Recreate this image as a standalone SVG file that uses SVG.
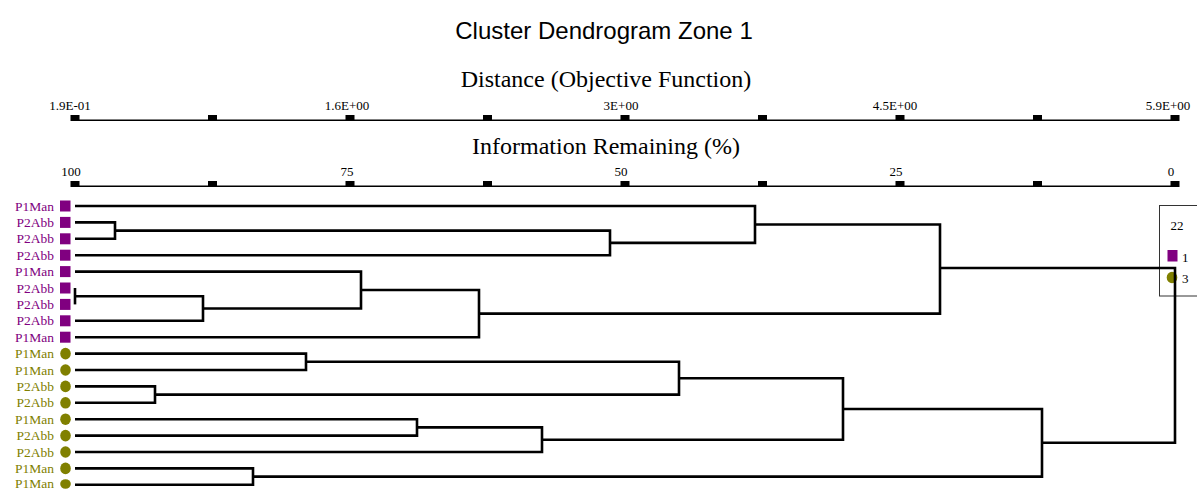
<svg xmlns="http://www.w3.org/2000/svg" width="1197" height="489" viewBox="0 0 1197 489">
<style>
.bg{fill:#fff}
.title{font-family:"Liberation Sans",Arial,sans-serif;font-size:24px;fill:#000;text-anchor:middle}
.cap{font-family:"Liberation Serif","Times New Roman",serif;font-size:24px;fill:#000;text-anchor:middle}
.ax{font-family:"Liberation Serif","Times New Roman",serif;font-size:13px;fill:#000;text-anchor:middle}
.axl{fill:none;stroke:#000;stroke-width:1.6}
.tk{fill:#000}
.lp{font-family:"Liberation Serif","Times New Roman",serif;font-size:13.5px;fill:#800080;text-anchor:end}
.lo{font-family:"Liberation Serif","Times New Roman",serif;font-size:13.5px;fill:#808000;text-anchor:end}
.mp{fill:#800080}
.mo{fill:#808000}
.br{fill:none;stroke:#000;stroke-width:2.6;stroke-linejoin:miter;stroke-linecap:butt}
.lg{font-family:"Liberation Serif","Times New Roman",serif;font-size:13px;fill:#000}
.box{fill:none;stroke:#333;stroke-width:1}
</style>
<rect class="bg" x="0" y="0" width="1197" height="489"/>
<text class="title" x="604" y="39">Cluster Dendrogram Zone 1</text>

<g id="axis-distance">
<text class="cap" x="606" y="87">Distance (Objective Function)</text>
<line class="axl" x1="71" y1="120.3" x2="1179" y2="120.3"/>
<rect class="tk" x="70.5" y="115" width="9" height="6"/>
<rect class="tk" x="208" y="115" width="9" height="6"/>
<rect class="tk" x="345.5" y="115" width="9" height="6"/>
<rect class="tk" x="483" y="115" width="9" height="6"/>
<rect class="tk" x="620.5" y="115" width="9" height="6"/>
<rect class="tk" x="758" y="115" width="9" height="6"/>
<rect class="tk" x="895.5" y="115" width="9" height="6"/>
<rect class="tk" x="1033" y="115" width="9" height="6"/>
<rect class="tk" x="1170.5" y="115" width="9" height="6"/>
<text class="ax" x="70" y="110">1.9E-01</text>
<text class="ax" x="347" y="110">1.6E+00</text>
<text class="ax" x="621" y="110">3E+00</text>
<text class="ax" x="895" y="110">4.5E+00</text>
<text class="ax" x="1168" y="110">5.9E+00</text>
</g>

<g id="axis-information">
<text class="cap" x="606" y="154">Information Remaining (%)</text>
<line class="axl" x1="71" y1="186.3" x2="1179" y2="186.3"/>
<rect class="tk" x="70.5" y="181" width="9" height="6"/>
<rect class="tk" x="208" y="181" width="9" height="6"/>
<rect class="tk" x="345.5" y="181" width="9" height="6"/>
<rect class="tk" x="483" y="181" width="9" height="6"/>
<rect class="tk" x="620.5" y="181" width="9" height="6"/>
<rect class="tk" x="758" y="181" width="9" height="6"/>
<rect class="tk" x="895.5" y="181" width="9" height="6"/>
<rect class="tk" x="1033" y="181" width="9" height="6"/>
<rect class="tk" x="1170.5" y="181" width="9" height="6"/>
<text class="ax" x="71" y="176">100</text>
<text class="ax" x="347" y="176">75</text>
<text class="ax" x="621" y="176">50</text>
<text class="ax" x="896" y="176">25</text>
<text class="ax" x="1171" y="176">0</text>
</g>

<g id="leaf-01"><text class="lp" x="54" y="210.5">P1Man</text><rect class="mp" x="60" y="200.5" width="10.5" height="11"/></g>
<g id="leaf-02"><text class="lp" x="54" y="226.9">P2Abb</text><rect class="mp" x="60" y="216.9" width="10.5" height="11"/></g>
<g id="leaf-03"><text class="lp" x="54" y="243.3">P2Abb</text><rect class="mp" x="60" y="233.3" width="10.5" height="11"/></g>
<g id="leaf-04"><text class="lp" x="54" y="259.7">P2Abb</text><rect class="mp" x="60" y="249.7" width="10.5" height="11"/></g>
<g id="leaf-05"><text class="lp" x="54" y="276.1">P1Man</text><rect class="mp" x="60" y="266.1" width="10.5" height="11"/></g>
<g id="leaf-06"><text class="lp" x="54" y="292.5">P2Abb</text><rect class="mp" x="60" y="282.5" width="10.5" height="11"/></g>
<g id="leaf-07"><text class="lp" x="54" y="308.9">P2Abb</text><rect class="mp" x="60" y="298.9" width="10.5" height="11"/></g>
<g id="leaf-08"><text class="lp" x="54" y="325.3">P2Abb</text><rect class="mp" x="60" y="315.3" width="10.5" height="11"/></g>
<g id="leaf-09"><text class="lp" x="54" y="341.7">P1Man</text><rect class="mp" x="60" y="331.7" width="10.5" height="11"/></g>
<g id="leaf-10"><text class="lo" x="54" y="358.1">P1Man</text><ellipse class="mo" cx="65.5" cy="353.6" rx="5.3" ry="5.8"/></g>
<g id="leaf-11"><text class="lo" x="54" y="374.5">P1Man</text><ellipse class="mo" cx="65.5" cy="370" rx="5.3" ry="5.8"/></g>
<g id="leaf-12"><text class="lo" x="54" y="390.9">P2Abb</text><ellipse class="mo" cx="65.5" cy="386.4" rx="5.3" ry="5.8"/></g>
<g id="leaf-13"><text class="lo" x="54" y="407.3">P2Abb</text><ellipse class="mo" cx="65.5" cy="402.8" rx="5.3" ry="5.8"/></g>
<g id="leaf-14"><text class="lo" x="54" y="423.7">P1Man</text><ellipse class="mo" cx="65.5" cy="419.2" rx="5.3" ry="5.8"/></g>
<g id="leaf-15"><text class="lo" x="54" y="440.1">P2Abb</text><ellipse class="mo" cx="65.5" cy="435.6" rx="5.3" ry="5.8"/></g>
<g id="leaf-16"><text class="lo" x="54" y="456.5">P2Abb</text><ellipse class="mo" cx="65.5" cy="452" rx="5.3" ry="5.8"/></g>
<g id="leaf-17"><text class="lo" x="54" y="472.9">P1Man</text><ellipse class="mo" cx="65.5" cy="468.4" rx="5.3" ry="5.8"/></g>
<g id="leaf-18"><text class="lo" x="54" y="488">P1Man</text><ellipse class="mo" cx="65.5" cy="484" rx="5.3" ry="4.8"/></g>

<g id="legend">
<rect class="box" x="1159.5" y="205.5" width="50" height="90.5"/>
<text class="lg" x="1177" y="230" text-anchor="middle">22</text>
<rect class="mp" x="1167.5" y="250" width="10" height="11.5"/>
<text class="lg" x="1182" y="261.5">1</text>
<ellipse class="mo" cx="1172" cy="277.5" rx="5.3" ry="5.8"/>
<text class="lg" x="1182" y="283">3</text>
</g>

<g id="connectors">
<path class="br" d="M75 222.4 H115 V238.8 H75"/>
<path class="br" d="M115 230.6 H610 V255.2 H75"/>
<path class="br" d="M75 206 H755 V242.9 H610"/>
<path class="br" d="M75 288 V304.4"/>
<path class="br" d="M75 296.2 H203 V320.8 H75"/>
<path class="br" d="M75 271.6 H361 V308.5 H203"/>
<path class="br" d="M361 290 H479 V337.2 H75"/>
<path class="br" d="M755 224.5 H940 V313.6 H479"/>
<path class="br" d="M75 353.6 H306 V370 H75"/>
<path class="br" d="M75 386.4 H155 V402.8 H75"/>
<path class="br" d="M306 361.8 H679 V394.6 H155"/>
<path class="br" d="M75 419.2 H417 V435.6 H75"/>
<path class="br" d="M417 427.4 H542 V452 H75"/>
<path class="br" d="M679 378.2 H843 V439.7 H542"/>
<path class="br" d="M75 468.4 H253 V484.8 H75"/>
<path class="br" d="M843 409 H1042 V476.6 H253"/>
<path class="br" d="M940 268 H1175 V442.8 H1042"/>
</g>
</svg>
